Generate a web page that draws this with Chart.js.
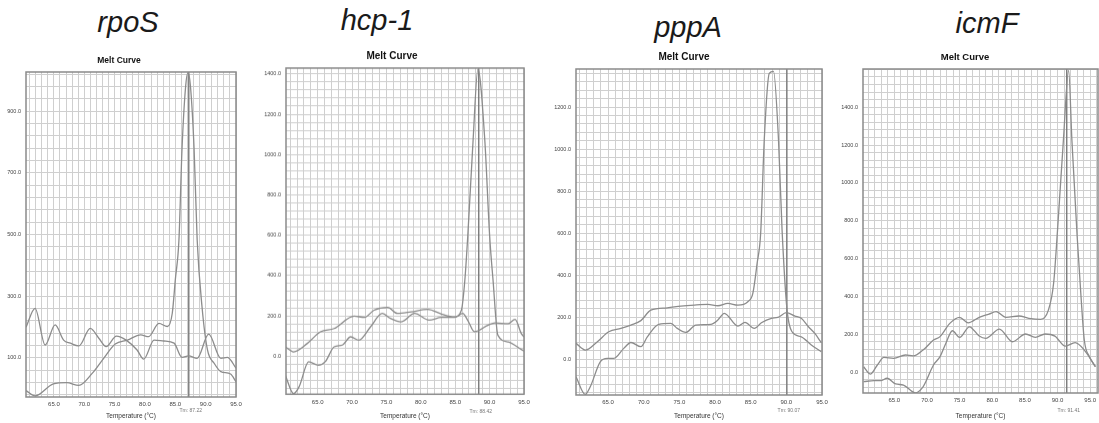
<!DOCTYPE html>
<html><head><meta charset="utf-8">
<script src="https://cdn.jsdelivr.net/npm/chart.js@4.4.1/dist/chart.umd.min.js"></script>
<style>
html,body{margin:0;padding:0;background:#fff;width:1099px;height:423px;overflow:hidden;position:relative;font-family:"Liberation Sans",Arial,sans-serif}
.gene{position:absolute;font-style:italic;font-size:29px;line-height:29px;color:#1a1a1a;transform:translateX(-50%);white-space:nowrap;font-family:"Liberation Sans",Arial,sans-serif}
canvas{position:absolute}
</style></head><body>
<script>
// ---------- gene names ----------
const geneNames = ['rpoS', 'hcp-1', 'pppA', 'icmF'];
const tmLabels = ['Tm: 87.22', 'Tm: 88.42', 'Tm: 90.07', 'Tm: 91.41'];
const tmValues = [87.22, 88.42, 90.07, 91.41];
const xTickLabels = ['65.0', '70.0', '75.0', '80.0', '85.0', '90.0', '95.0'];

// ---------- rpoS ----------
const rposTempA = [60.4, 61.9, 63.55, 65.2, 66.6, 67.7, 69.1, 71.0, 72.4, 73.6, 75.3, 76.9, 78.7, 79.8, 81.5, 83.1, 84.8, 86.1, 87.2, 88.6, 90.5, 92.5, 93.6, 95.0];
const rposFluA = [200, 261, 142, 207, 158, 148, 139, 196, 164, 137, 171, 158, 126, 96, 158, 155, 148, 102, 107, 99, 177, 99, 102, 67];
const rposTempB = [60.4, 61.9, 64.9, 67.1, 69.1, 71.3, 73.2, 75.1, 77.1, 79.3, 80.6, 82.3, 83.7, 84.5, 85.0, 85.6, 86.1, 86.7, 87.1, 87.5, 88.1, 88.6, 89.4, 90.3, 91.4, 92.5, 94.1, 95.0];
const rposFluB = [-6, -23, 16, 20, 11, 50, 99, 145, 158, 175, 169, 212, 202, 245, 353, 483, 775, 980, 1025, 980, 775, 483, 266, 126, 83, 56, 48, 23];
const rposYTickLabels = ['100.0', '300.0', '500.0', '700.0', '900.0'];

// ---------- hcp-1 ----------
const hcpTempA = [60.3, 61.5, 63.5, 65.4, 67.4, 70.3, 71.8, 73.2, 75.2, 76.6, 78.6, 81.0, 83.0, 84.9, 85.9, 86.4, 86.85, 87.6, 88.3, 89.3, 90.0, 90.5, 91.2, 92.7, 94.6, 95.0];
const hcpFluA = [46, 21, 63, 121, 137, 199, 192, 228, 242, 212, 220, 232, 209, 195, 228, 377, 610, 1072, 1425, 1072, 600, 377, 104, 71, 33, 25];
const hcpTempB = [60.3, 61.5, 62.3, 63.7, 65.1, 66.1, 67.4, 68.6, 69.8, 71.0, 72.7, 74.4, 75.6, 77.1, 79.1, 81.2, 83.0, 84.9, 86.1, 86.8, 87.8, 89.8, 90.8, 92.7, 93.7, 94.6, 95.0];
const hcpFluB = [-94, -186, -152, -28, -45, -28, 46, 55, 96, 79, 146, 212, 187, 170, 212, 179, 192, 192, 212, 179, 121, 154, 165, 161, 182, 113, 95];
const hcpYTickLabels = ['0.0', '200.0', '400.0', '600.0', '800.0', '1000.0', '1200.0', '1400.0'];

// ---------- pppA ----------
const pppTempA = [60.5, 61.8, 63.5, 65.1, 66.8, 68.2, 69.6, 71.0, 73.3, 75.2, 77.1, 79.0, 80.4, 81.8, 83.2, 84.6, 85.3, 85.9, 86.4, 86.9, 87.6, 88.2, 88.9, 89.4, 90.1, 90.8, 92.1, 93.5, 94.9];
const pppFluA = [75, 43, 83, 130, 146, 162, 183, 233, 244, 252, 257, 260, 254, 265, 257, 273, 313, 456, 600, 1043, 1360, 1370, 1043, 614, 233, 130, 106, 67, 35];
const pppTempB = [60.5, 61.8, 62.5, 63.9, 64.9, 65.8, 67.2, 68.2, 69.6, 70.5, 72.1, 73.8, 74.7, 75.9, 77.3, 79.4, 80.4, 81.3, 83.2, 84.2, 85.5, 86.5, 87.9, 88.8, 90.0, 91.2, 92.1, 93.1, 94.0, 94.9];
const pppFluB = [-84, -168, -132, -13, 3, 3, 51, 79, 59, 106, 165, 170, 146, 127, 162, 165, 186, 218, 157, 175, 146, 173, 194, 198, 221, 205, 194, 154, 122, 78];
const pppYTickLabels = ['0.0', '200.0', '400.0', '600.0', '800.0', '1000.0', '1200.0'];

// ---------- icmF ----------
const icmTempA = [60.3, 61.3, 62.4, 63.4, 64.9, 66.7, 67.9, 69.4, 71.0, 72.0, 73.5, 75.0, 76.3, 78.0, 79.5, 80.6, 82.1, 84.1, 85.6, 87.4, 88.6, 89.4, 90.0, 90.9, 91.7, 92.2, 93.0, 93.6, 94.1, 94.9, 95.8];
const icmFluA = [28, -11, 37, 77, 72, 90, 85, 116, 169, 187, 257, 289, 260, 289, 306, 319, 289, 296, 284, 278, 327, 469, 750, 1226, 1595, 1226, 720, 398, 169, 81, 28];
const icmTempB = [60.3, 61.9, 62.9, 63.9, 65.2, 66.4, 68.2, 69.4, 71.0, 72.0, 72.9, 73.9, 75.0, 76.5, 78.0, 79.0, 81.1, 83.1, 85.1, 86.6, 88.1, 89.6, 91.2, 92.7, 94.1, 95.8];
const icmFluB = [-51, -46, -46, -33, -63, -69, -110, -78, 37, 81, 152, 218, 183, 239, 190, 178, 227, 160, 201, 183, 201, 190, 137, 155, 116, 28];
const icmYTickLabels = ['0.0', '200.0', '400.0', '600.0', '800.0', '1000.0', '1200.0', '1400.0'];

// ---------- layout (page pixels) ----------
const panels = [
  {gene: 0, geneX: 128, geneTop: 8, plot: [26, 72, 236, 397], titleX: 119, titleSize: 8.5,
   xRange: [60.4, 95.0], yRange: [-26.5, 1027], yTicks: rposYTickLabels,
   curves: [[rposTempA, rposFluA], [rposTempB, rposFluB]]},
  {gene: 1, geneX: 377, geneTop: 6, plot: [286, 68.3, 524, 394.3], titleX: 392, titleSize: 10,
   xRange: [60.4, 95.0], yRange: [-189, 1429], yTicks: hcpYTickLabels,
   curves: [[hcpTempA, hcpFluA], [hcpTempB, hcpFluB]]},
  {gene: 2, geneX: 688, geneTop: 13, plot: [576, 69, 822, 395], titleX: 684, titleSize: 10,
   xRange: [60.5, 95.0], yRange: [-171, 1381], yTicks: pppYTickLabels,
   curves: [[pppTempA, pppFluA], [pppTempB, pppFluB]]},
  {gene: 3, geneX: 987, geneTop: 9, plot: [863, 68.7, 1098, 393], titleX: 965, titleSize: 9.5,
   xRange: [60.2, 96.2], yRange: [-111, 1602], yTicks: icmYTickLabels,
   curves: [[icmTempA, icmFluA], [icmTempB, icmFluB]]}
];

const CURVE = '#8c8c8c', GRID = '#cfcfcf', FRAME = '#8a8a8a';

panels.forEach(p => {
  const g = document.createElement('div');
  g.className = 'gene';
  g.textContent = geneNames[p.gene];
  g.style.left = p.geneX + 'px';
  g.style.top = p.geneTop + 'px';
  document.body.appendChild(g);

  const [pl, pt, pr, pb] = p.plot;
  const cl = pl - 34, ct = pt - 24, cr = Math.min(1099, pr + 12), cb = 423;
  const cv = document.createElement('canvas');
  cv.width = cr - cl; cv.height = cb - ct;
  cv.style.left = cl + 'px'; cv.style.top = ct + 'px';
  cv.style.width = (cr - cl) + 'px'; cv.style.height = (cb - ct) + 'px';
  document.body.appendChild(cv);

  const xLabelVals = xTickLabels.map(Number);
  const yLabelVals = p.yTicks.map(Number);
  const tm = tmValues[p.gene];

  const datasets = p.curves.map(([xs, ys]) => ({
    data: xs.map((x, i) => ({x, y: ys[i]})),
    borderColor: CURVE, borderWidth: 1.3, pointRadius: 0,
    cubicInterpolationMode: 'monotone', fill: false
  }));
  datasets.push({
    data: [{x: tm, y: p.yRange[0]}, {x: tm, y: p.yRange[1]}],
    borderColor: '#7a7a7a', borderWidth: 1.4, pointRadius: 0, tension: 0, fill: false
  });

  const textPlugin = {
    id: 'txt',
    afterDraw(chart) {
      const ctx = chart.ctx, a = chart.chartArea;
      ctx.save();
      ctx.strokeStyle = FRAME; ctx.lineWidth = 1.5;
      ctx.strokeRect(a.left, a.top, a.right - a.left, a.bottom - a.top);
      ctx.fillStyle = '#111';
      ctx.font = 'bold ' + p.titleSize + 'px "Liberation Sans", Arial, sans-serif';
      ctx.textAlign = 'center'; ctx.textBaseline = 'middle';
      ctx.fillText('Melt Curve', p.titleX - cl, a.top - 11.5);
      ctx.fillStyle = '#333';
      ctx.font = '6.5px "Liberation Sans", Arial, sans-serif';
      ctx.fillText('Temperature (\u00B0C)', (a.left + a.right) / 2, 416 - ct);
      ctx.fillStyle = '#777';
      ctx.font = '5px "Liberation Sans", Arial, sans-serif';
      const tx = chart.scales.x.getPixelForValue(tm);
      ctx.fillText(tmLabels[p.gene], tx + 2, 410.5 - ct);
      ctx.restore();
    }
  };

  new Chart(cv, {
    type: 'line',
    data: {datasets},
    plugins: [textPlugin],
    options: {
      responsive: false, animation: false, devicePixelRatio: 1,
      layout: {autoPadding: false, padding: {left: 0, top: pt - ct, right: cr - pr, bottom: 0}},
      plugins: {legend: {display: false}, tooltip: {enabled: false}, title: {display: false}},
      scales: {
        x: {
          type: 'linear', min: p.xRange[0], max: p.xRange[1],
          afterFit: s => { s.height = cb - pb; s.paddingLeft = 0; s.paddingRight = 0; s.paddingTop = 0; s.paddingBottom = 0; },
          afterBuildTicks: s => {
            const t = [];
            for (let v = Math.ceil(p.xRange[0]); v <= p.xRange[1] + 1e-9; v++) t.push({value: v});
            s.ticks = t;
          },
          grid: {color: GRID, lineWidth: 1, drawTicks: false},
          border: {display: false},
          ticks: {
            autoSkip: false, maxRotation: 0, padding: 4, color: '#444',
            font: {size: 6, family: '"Liberation Sans", Arial, sans-serif'},
            callback: v => { const i = xLabelVals.indexOf(v); return i >= 0 ? xTickLabels[i] : ''; }
          }
        },
        y: {
          type: 'linear', min: p.yRange[0], max: p.yRange[1],
          afterFit: s => { s.width = pl - cl; s.paddingTop = 0; s.paddingBottom = 0; s.paddingLeft = 0; s.paddingRight = 0; },
          afterBuildTicks: s => {
            const base = yLabelVals[0], step = (yLabelVals[1] - yLabelVals[0]) / 5;
            const t = [];
            let v = base - Math.floor((base - p.yRange[0]) / step) * step;
            for (; v <= p.yRange[1] + 1e-9; v += step) t.push({value: Math.round(v * 1000) / 1000});
            s.ticks = t;
          },
          grid: {color: GRID, lineWidth: 1, drawTicks: false},
          border: {display: false},
          ticks: {
            autoSkip: false, padding: 5, color: '#444',
            font: {size: 5.5, family: '"Liberation Sans", Arial, sans-serif'},
            callback: v => { const i = yLabelVals.indexOf(v); return i >= 0 ? p.yTicks[i] : ''; }
          }
        }
      }
    }
  });
});
</script>
</body></html>
